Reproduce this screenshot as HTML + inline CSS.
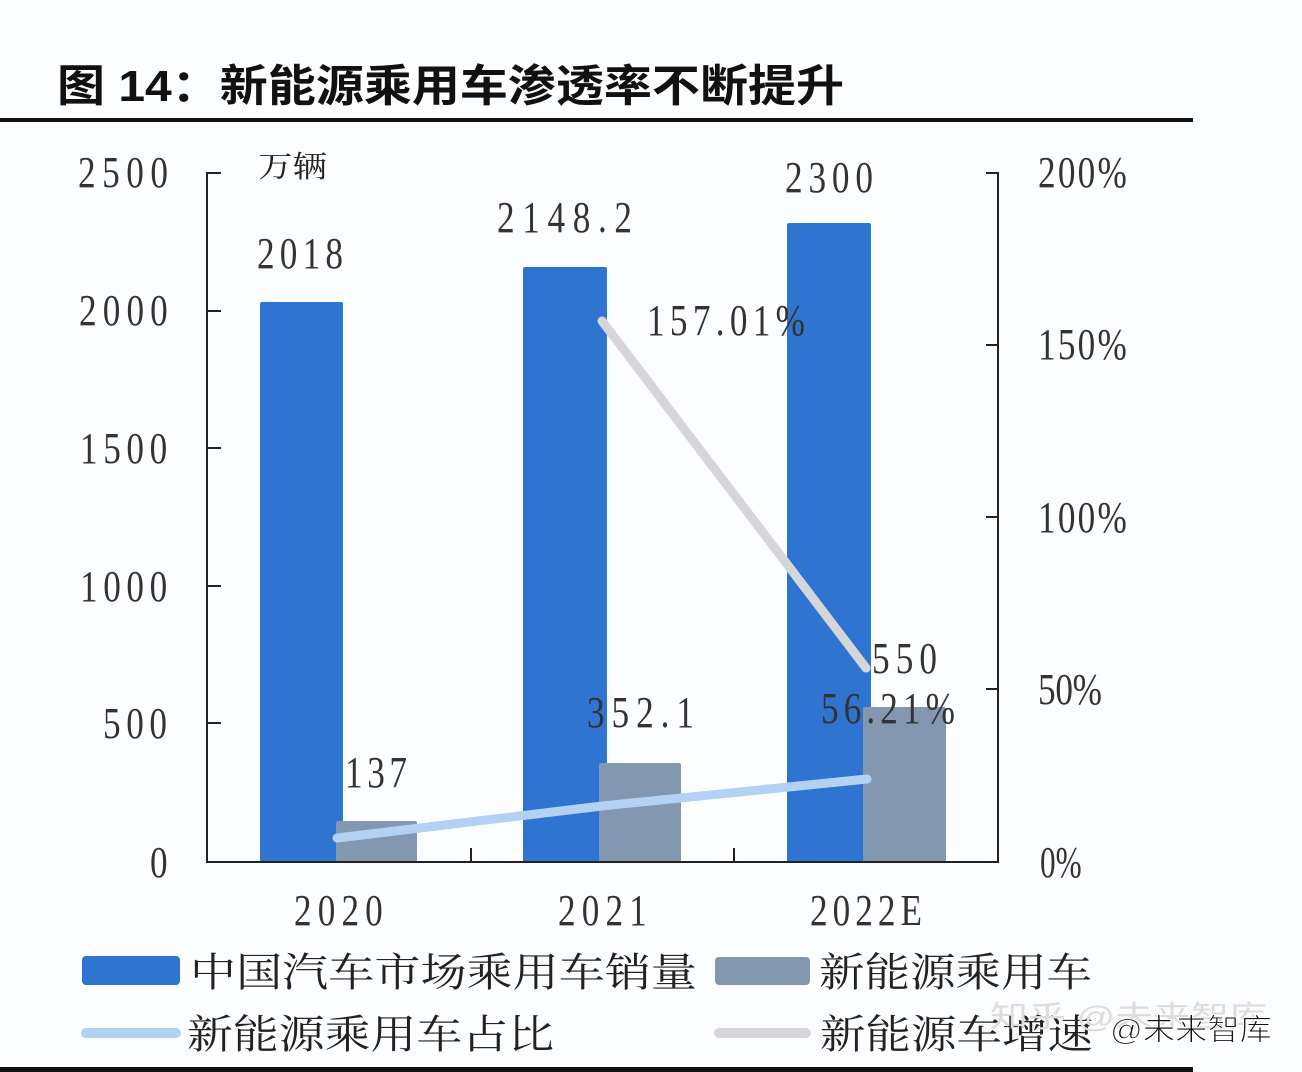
<!DOCTYPE html>
<html>
<head>
<meta charset="utf-8">
<style>
  html,body{margin:0;padding:0;background:#fcfdff;}
  svg{display:block;}
  .num{font-family:"Liberation Serif","Noto Serif CJK SC",serif;font-size:44px;fill:#333;}
  .cjk{font-family:"Liberation Serif","Noto Serif CJK SC",serif;fill:#222;}
</style>
</head>
<body>
<svg width="1302" height="1072" viewBox="0 0 1302 1072" xmlns="http://www.w3.org/2000/svg">
  <rect x="0" y="0" width="1302" height="1072" fill="#fcfdff"/>

  <!-- Title -->
  <text x="57" y="101" font-family="'Liberation Sans','Noto Sans CJK SC',sans-serif" font-weight="bold" font-size="44" fill="#111" textLength="787" lengthAdjust="spacingAndGlyphs">图 14：新能源乘用车渗透率不断提升</text>
  <rect x="0" y="118" width="1193" height="4" fill="#111"/>

  <!-- Unit -->
  <text x="258" y="177" class="cjk" font-size="30" textLength="69" lengthAdjust="spacingAndGlyphs">万辆</text>

  <!-- Bars: blue -->
  <rect x="260" y="302" width="83" height="560" rx="2" fill="#2f74d1"/>
  <rect x="523" y="267" width="84" height="595" rx="2" fill="#2f74d1"/>
  <rect x="787" y="223" width="84" height="639" rx="2" fill="#2f74d1"/>
  <!-- Bars: grey -->
  <rect x="336" y="821" width="81" height="41" rx="2" fill="#8497b0"/>
  <rect x="599" y="763" width="82" height="99" rx="2" fill="#8497b0"/>
  <rect x="863" y="707" width="83" height="155" rx="2" fill="#8497b0"/>

  <!-- Axes -->
  <g stroke="#222" stroke-width="2" fill="none">
    <line x1="207" y1="172" x2="207" y2="863"/>
    <line x1="998" y1="172" x2="998" y2="863"/>
    <line x1="206" y1="862" x2="999" y2="862"/>
    <line x1="207" y1="173" x2="221" y2="173"/>
    <line x1="207" y1="311" x2="221" y2="311"/>
    <line x1="207" y1="448" x2="221" y2="448"/>
    <line x1="207" y1="586" x2="221" y2="586"/>
    <line x1="207" y1="723" x2="221" y2="723"/>
    <line x1="986" y1="173" x2="998" y2="173"/>
    <line x1="986" y1="345" x2="998" y2="345"/>
    <line x1="986" y1="517" x2="998" y2="517"/>
    <line x1="986" y1="689" x2="998" y2="689"/>
    <line x1="471" y1="848" x2="471" y2="862"/>
    <line x1="734" y1="848" x2="734" y2="862"/>
  </g>

  <!-- Lines -->
  <polyline points="337,838 602,806 867,779" fill="none" stroke="#b3d1f3" stroke-width="9" stroke-linecap="round" stroke-linejoin="round"/>
  <polyline points="602,321 866,668" fill="none" stroke="#d6d6d8" stroke-width="9" stroke-linecap="round"/>

  <!-- Left axis labels -->
  <text class="num" transform="translate(78,187) scale(0.8,1)" x="0" y="0" textLength="112.5" lengthAdjust="spacing">2500</text>
  <text class="num" transform="translate(79,325) scale(0.8,1)" x="0" y="0" textLength="111" lengthAdjust="spacing">2000</text>
  <text class="num" transform="translate(80,463) scale(0.8,1)" x="0" y="0" textLength="109" lengthAdjust="spacing">1500</text>
  <text class="num" transform="translate(80,601) scale(0.8,1)" x="0" y="0" textLength="109" lengthAdjust="spacing">1000</text>
  <text class="num" transform="translate(103,738) scale(0.8,1)" x="0" y="0" textLength="80" lengthAdjust="spacing">500</text>
  <text class="num" transform="translate(150,877) scale(0.8,1)" x="0" y="0">0</text>

  <!-- Right axis labels -->
  <text class="num" transform="translate(1038,187) scale(0.8,1)" x="0" y="0" textLength="111" lengthAdjust="spacing">200%</text>
  <text class="num" transform="translate(1038,359) scale(0.8,1)" x="0" y="0" textLength="111" lengthAdjust="spacing">150%</text>
  <text class="num" transform="translate(1038,532) scale(0.8,1)" x="0" y="0" textLength="111" lengthAdjust="spacing">100%</text>
  <text class="num" transform="translate(1038,704) scale(0.8,1)" x="0" y="0" textLength="80" lengthAdjust="spacing">50%</text>
  <text class="num" transform="translate(1040,877) scale(0.8,1)" x="0" y="0" textLength="52" lengthAdjust="spacingAndGlyphs">0%</text>

  <!-- Category labels -->
  <text class="num" transform="translate(294,925) scale(0.8,1)" x="0" y="0" textLength="111" lengthAdjust="spacing">2020</text>
  <text class="num" transform="translate(558,925) scale(0.8,1)" x="0" y="0" textLength="111" lengthAdjust="spacing">2021</text>
  <text class="num" transform="translate(810,925) scale(0.8,1)" x="0" y="0" textLength="140" lengthAdjust="spacing">2022E</text>

  <!-- Data labels -->
  <text class="num" transform="translate(257,268) scale(0.8,1)" x="0" y="0" textLength="107.5" lengthAdjust="spacing">2018</text>
  <text class="num" transform="translate(345,787) scale(0.8,1)" x="0" y="0" textLength="77.5" lengthAdjust="spacing">137</text>
  <text class="num" transform="translate(497,232) scale(0.8,1)" x="0" y="0" textLength="168.75" lengthAdjust="spacing">2148.2</text>
  <text class="num" transform="translate(587,727) scale(0.8,1)" x="0" y="0" textLength="133.75" lengthAdjust="spacing">352.1</text>
  <text class="num" transform="translate(785,192) scale(0.8,1)" x="0" y="0" textLength="110" lengthAdjust="spacing">2300</text>
  <text class="num" transform="translate(647,335) scale(0.8,1)" x="0" y="0" textLength="197.5" lengthAdjust="spacing">157.01%</text>
  <text class="num" transform="translate(872,673) scale(0.8,1)" x="0" y="0" textLength="81.25" lengthAdjust="spacing">550</text>
  <text class="num" transform="translate(821,723) scale(0.8,1)" x="0" y="0" textLength="167.5" lengthAdjust="spacing">56.21%</text>

  <!-- Legend -->
  <rect x="82" y="956" width="98" height="29" rx="4" fill="#2f74d1"/>
  <text class="cjk" x="190" y="986" font-size="40" textLength="507" lengthAdjust="spacingAndGlyphs">中国汽车市场乘用车销量</text>
  <rect x="715" y="957" width="95" height="28" rx="4" fill="#8497b0"/>
  <text class="cjk" x="819" y="986" font-size="40" textLength="273" lengthAdjust="spacingAndGlyphs">新能源乘用车</text>

  <line x1="86" y1="1033" x2="176" y2="1033" stroke="#b3d1f3" stroke-width="10" stroke-linecap="round"/>
  <text class="cjk" x="187" y="1048" font-size="40" textLength="367" lengthAdjust="spacingAndGlyphs">新能源乘用车占比</text>
  <line x1="719" y1="1033" x2="806" y2="1033" stroke="#d6d6d8" stroke-width="10" stroke-linecap="round"/>
  <text class="cjk" x="820" y="1048" font-size="40" textLength="273" lengthAdjust="spacingAndGlyphs">新能源车增速</text>

  <!-- Watermark -->
  <text x="990" y="1027" font-family="'Liberation Sans','Noto Sans CJK SC',sans-serif" font-size="30" fill="#dcdcdc" textLength="277" lengthAdjust="spacingAndGlyphs">知乎 @未来智库</text>
  <text x="1110" y="1040" font-family="'Liberation Sans','Noto Sans CJK SC',sans-serif" font-size="30" fill="#111" stroke="#fff" stroke-width="1" textLength="162" lengthAdjust="spacingAndGlyphs">@未来智库</text>

  <!-- Bottom bar -->
  <rect x="0" y="1067" width="1193" height="5" fill="#111"/>
</svg>
</body>
</html>
